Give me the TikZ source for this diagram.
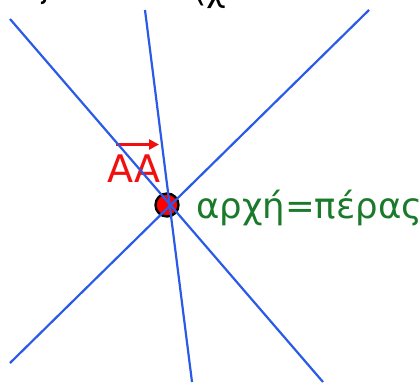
\documentclass[tikz,border=0pt]{standalone}
\usepackage{fontspec}
\setmainfont{DejaVu Sans}
\usetikzlibrary{arrows.meta}
\definecolor{lineblue}{HTML}{2A5BE8}
\definecolor{txtgreen}{HTML}{1A7A2A}
\definecolor{txtred}{HTML}{F01010}
\tikzset{
  ray/.style={draw=lineblue, line width=2.2pt},
  pointmark/.style={circle, fill=red, draw=black, line width=2.4pt, minimum size=23pt, inner sep=0pt},
  redlabel/.style={text=txtred, font=\fontsize{38}{40}\selectfont, inner sep=0pt, anchor=base west},
  greenlabel/.style={text=txtgreen, font=\fontsize{35.5}{37}\selectfont, inner sep=0pt, anchor=base west},
  toplabel/.style={text=black, font=\fontsize{34}{36}\selectfont, inner sep=0pt, anchor=base west},
  vecarrow/.style={draw=txtred, line width=3.6pt, -{Triangle[length=10pt,width=10pt]}}
}
\begin{document}
\begin{tikzpicture}[x=1pt,y=-1pt]
\useasboundingbox (0,0) rectangle (419,382);
\node[toplabel] (t1) at (30,-2) {ς};
\node[toplabel] (t2) at (193,2) {(χ};
\node[pointmark] (O) at (167,205) {};
\node[redlabel] (AA) at (107,182) {AA};
\coordinate (va) at (116,144.5);
\coordinate (vb) at (159,144.5);
\draw[vecarrow] (va) -- (vb);
\node[greenlabel] (lab) at (196,218) {αρχή=πέρας};
\coordinate (a1) at (10,19);
\coordinate (b1) at (323,382);
\coordinate (a2) at (145,10);
\coordinate (b2) at (192,382);
\coordinate (a3) at (369,10);
\coordinate (b3) at (10,363);
\draw[ray] (a1) -- (b1);
\draw[ray] (a2) -- (b2);
\draw[ray] (a3) -- (b3);
\end{tikzpicture}
\end{document}
